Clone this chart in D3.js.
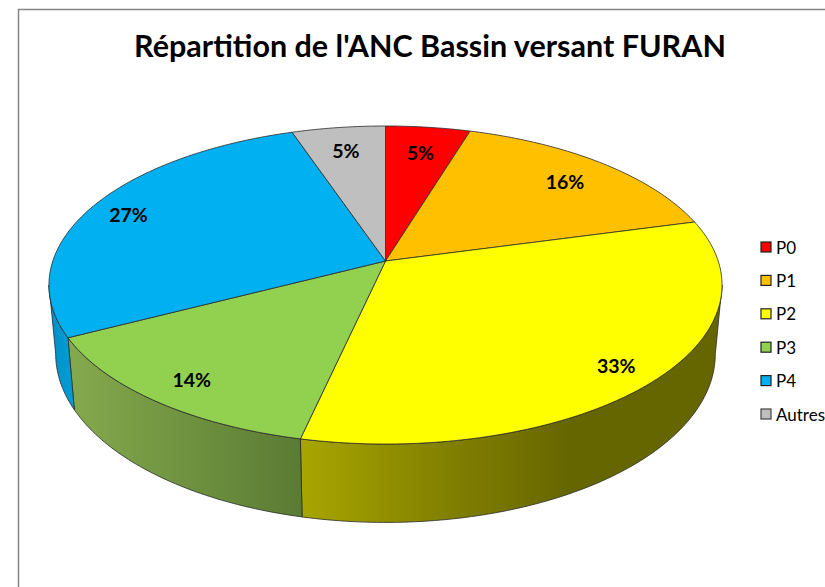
<!DOCTYPE html>
<html>
<head>
<meta charset="utf-8">
<script src="https://cdn.jsdelivr.net/npm/d3@7"></script>
<style>
  html, body { margin: 0; padding: 0; background: #fff; }
  svg { display: block; }
  text { font-family: Lato, "Open Sans", sans-serif; fill: #000; }
</style>
</head>
<body>
<svg id="chart" width="825" height="587"></svg>
<script>
const title = "Répartition de l'ANC Bassin versant FURAN";
const categories = ['P0', 'P1', 'P2', 'P3', 'P4', 'Autres'];
const values = [4.7, 16.1, 32.7, 13.9, 27.4, 5.2];
const colors = ['#ff0000', '#ffc000', '#ffff00', '#92d050', '#00b0f0', '#bfbfbf'];

// per slice distance of the label from the apex, 1 = on the rim
const labelRadius = [0.82, 0.83, 0.86, 0.84, 0.88, 0.84];

const svg = d3.select('#chart');
const defs = svg.append('defs');

// tilted circle, the near side comes out bigger than the far side
const persp = -0.151;
const top3d = {x0: 385.5, y0: 261, rx: 332.7, ry: 155.4, sx: 1, sy: 1};
const bottom3d = {x0: 385.5, y0: 328.4, rx: 332.7, ry: 155.4, sx: 0.98, sy: 1.06};

const project = (angle, plane, r = 1) => {
  const u = Math.sin(angle), v = -Math.cos(angle);
  const d = 1 + persp * v;
  return [
    plane.x0 + r * plane.sx * plane.rx * u / d,
    plane.y0 + r * plane.sy * plane.ry * v / d
  ];
};

const arcPoints = (a0, a1, plane) => {
  const n = Math.max(2, Math.ceil((a1 - a0) * 60));
  return d3.range(n + 1).map(i => project(a0 + (a1 - a0) * i / n, plane));
};

const line = d3.line();
const slices = d3.pie().sort(null).value(d => d)(values);

// frame
svg.append('path')
  .attr('d', 'M18.5,587V9.5H825')
  .attr('fill', 'none')
  .attr('stroke', '#868686')
  .attr('stroke-width', 1.5);

svg.append('text')
  .attr('x', 430)
  .attr('y', 57)
  .attr('text-anchor', 'middle')
  .attr('font-size', 30.5)
  .attr('font-weight', 700)
  .text(title);

// side wall, only the part facing us
const wallStart = 98.7 * Math.PI / 180;
const wallEnd = 261.3 * Math.PI / 180;

const wallShades = {
  2: [[303, '#a8a500'], [430, '#868400'], [570, '#666600']],
  3: [[69, '#84aa4d'], [301, '#5a7b33']],
  4: [[50, '#0090c6'], [76, '#009ed8']]
};

Object.entries(wallShades).forEach(([i, stops]) => {
  const x1 = stops[0][0], x2 = stops[stops.length - 1][0];
  const pos = d3.scaleLinear().domain([x1, x2]).range([0, 1]);
  const g = defs.append('linearGradient')
    .attr('id', 'wall' + i)
    .attr('gradientUnits', 'userSpaceOnUse')
    .attr('x1', x1).attr('x2', x2)
    .attr('y1', 0).attr('y2', 0);
  stops.forEach(s => g.append('stop').attr('offset', pos(s[0])).attr('stop-color', s[1]));
});

svg.append('g').selectAll('path')
  .data(slices.filter(s => s.endAngle > wallStart && s.startAngle < wallEnd))
  .join('path')
  .attr('d', s => {
    const a0 = Math.max(s.startAngle, wallStart);
    const a1 = Math.min(s.endAngle, wallEnd);
    return line(arcPoints(a0, a1, top3d).concat(arcPoints(a0, a1, bottom3d).reverse())) + 'Z';
  })
  .attr('fill', s => `url(#wall${s.index})`)
  .attr('stroke', '#2b2b2b')
  .attr('stroke-width', 0.8)
  .attr('stroke-linejoin', 'round');

// top face
svg.append('g').selectAll('path')
  .data(slices)
  .join('path')
  .attr('d', s => line([[top3d.x0, top3d.y0]].concat(arcPoints(s.startAngle, s.endAngle, top3d))) + 'Z')
  .attr('fill', (s, i) => colors[i])
  .attr('stroke', '#2b2b2b')
  .attr('stroke-width', 0.8)
  .attr('stroke-linejoin', 'round');

svg.append('g').selectAll('text')
  .data(slices)
  .join('text')
  .attr('x', (s, i) => project((s.startAngle + s.endAngle) / 2, top3d, labelRadius[i])[0])
  .attr('y', (s, i) => project((s.startAngle + s.endAngle) / 2, top3d, labelRadius[i])[1] + 1.5)
  .attr('text-anchor', 'middle')
  .attr('dominant-baseline', 'central')
  .attr('font-size', 19.5)
  .attr('font-weight', 700)
  .text(s => Math.round(s.data) + '%');

// legend
const legendY = d3.scalePoint().domain(categories).range([247, 414]);
const legend = svg.append('g').selectAll('g')
  .data(categories)
  .join('g')
  .attr('transform', d => `translate(761,${legendY(d)})`);

legend.append('rect')
  .attr('x', 0)
  .attr('y', -5)
  .attr('width', 10)
  .attr('height', 10)
  .attr('fill', (d, i) => colors[i])
  .attr('stroke', d => d === 'Autres' ? '#444' : '#222')
  .attr('stroke-width', 1.2);

legend.append('text')
  .attr('x', 15)
  .attr('y', 0)
  .attr('dominant-baseline', 'central')
  .attr('font-size', 17)
  .text(d => d);
</script>
</body>
</html>
